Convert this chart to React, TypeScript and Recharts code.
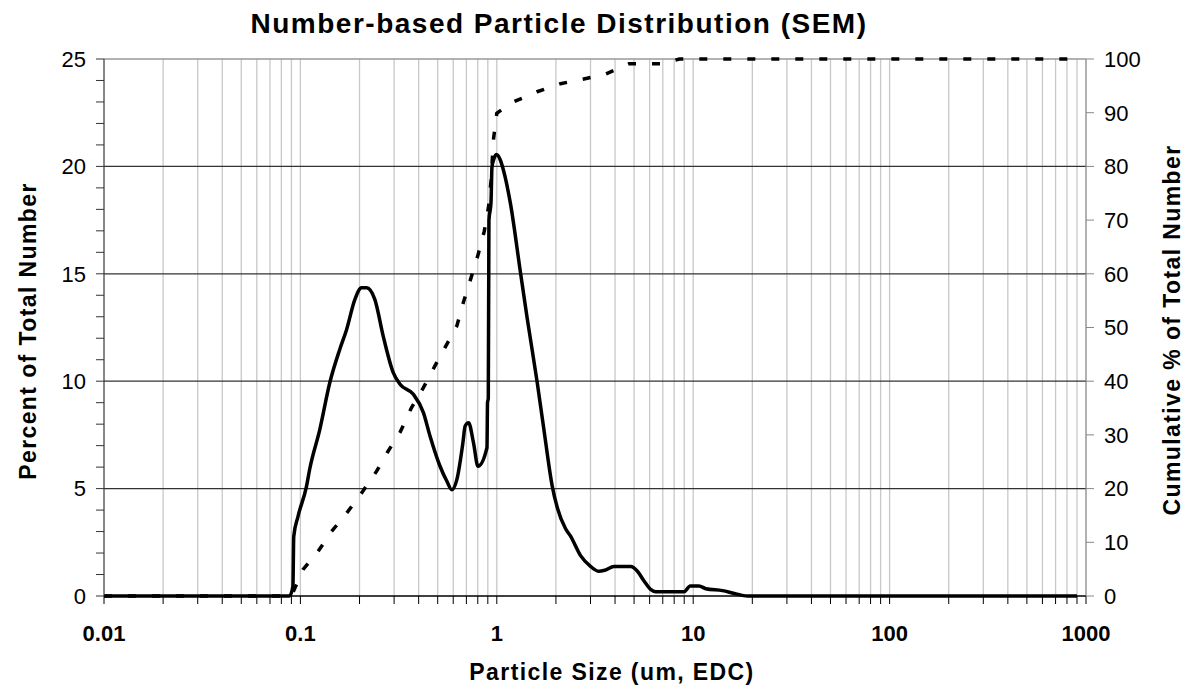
import React from "react"
import {
  ComposedChart,
  Line,
  XAxis,
  YAxis,
  CartesianGrid,
  ReferenceLine
} from "recharts"

// particle size (um) / percent of total number, solid curve
const sizeNum = [
  0.01, 0.088, 0.0916, 0.0925, 0.0972, 0.1074, 0.1115, 0.1256, 0.1412, 0.1589,
  0.1718, 0.1893, 0.2048, 0.2174, 0.2395, 0.264, 0.297, 0.3215, 0.376, 0.423,
  0.457, 0.514, 0.557, 0.59, 0.626, 0.672, 0.69, 0.718, 0.761, 0.802,
  0.891, 0.897, 0.905, 0.912, 0.934, 0.945, 0.963, 0.994, 1.042, 1.083,
  1.172, 1.318, 1.426, 1.604, 1.734, 1.914, 2.03, 2.24, 2.37, 2.67,
  3.0, 3.31, 3.55, 3.95, 4.81, 5.2, 5.62, 6.07, 6.45, 9.0,
  9.66, 10.7, 11.6, 14.1, 16.2, 18.9, 900
]
const pctNum = [
  0, 0, 0.44, 2.77, 3.7, 5.1, 5.9, 7.76, 9.94, 11.5,
  12.4, 13.8, 14.35, 14.35, 13.8, 12.1, 10.4, 9.86, 9.39, 8.54,
  7.45, 6.04, 5.34, 4.95, 5.42, 7.13, 7.91, 8.07, 7.13, 6.04,
  6.9, 9.0, 9.2, 17.5, 18.3, 19.97, 20.3, 20.55, 20.3, 19.8,
  18.3, 15.1, 12.97, 9.97, 7.8, 5.13, 4.13, 3.13, 2.8, 1.88,
  1.38, 1.15, 1.2, 1.37, 1.37, 1.15, 0.7, 0.31, 0.2, 0.2,
  0.47, 0.47, 0.34, 0.25, 0.12, 0, 0
]

// cumulative %, dashed curve
const sizeCum = [
  0.01, 0.09, 0.103, 0.123, 0.144, 0.175, 0.205, 0.244, 0.28, 0.321,
  0.368, 0.423, 0.485, 0.557, 0.626, 0.676, 0.737, 0.798, 0.863, 0.908,
  0.934, 0.963, 1.0, 1.196, 1.604, 2.11, 2.72, 3.58, 4.71, 6.2,
  7.0, 8.5, 900
]
const cumPct = [
  0, 0, 4.9, 8.3, 12.0, 15.8, 19.2, 23.2, 27.0, 30.4,
  35.1, 38.8, 42.9, 46.9, 50.3, 54.7, 59.1, 63.2, 67.9, 72.5,
  77.2, 85.2, 89.9, 91.9, 93.9, 95.4, 96.2, 97.2, 99.1, 99.1,
  99.1, 100, 100
]

const decades = [0.01, 0.1, 1, 10, 100, 1000]
const mults = [1, 2, 3, 4, 5, 6, 7, 8, 9]
const leftTicks = [0, 1, 2, 3, 4, 5, 6, 7, 8, 9, 10, 11, 12, 13, 14, 15, 16, 17, 18, 19, 20, 21, 22, 23, 24, 25]
const leftLabels = [0, 5, 10, 15, 20, 25]
const rightTicks = [0, 10, 20, 30, 40, 50, 60, 70, 80, 90, 100]
const hGrid = [5, 10, 15, 20]

const font = "'Liberation Sans', Arial, sans-serif"

const xTicks = decades
  .slice(0, -1)
  .flatMap((d) => mults.map((m) => Number((m * d).toPrecision(3))))
  .concat([1000])

const numData = sizeNum.map((x, i) => ({ x, pct: pctNum[i] }))
const cumData = sizeCum.map((x, i) => ({ x, cum: cumPct[i] }))

export default function App() {
  return (
    <div style={{ position: "absolute", left: 0, top: 0, width: 1197, height: 695, background: "#fff" }}>
      <ComposedChart
        width={1197}
        height={695}
        margin={{ top: 59, right: 0, bottom: 0, left: 0 }}
      >
        <CartesianGrid yAxisId="left" horizontal={false} stroke="#c8c8c8" strokeWidth={1.3} />
        <XAxis
          type="number"
          dataKey="x"
          scale="log"
          domain={[0.01, 1000]}
          allowDataOverflow
          ticks={xTicks}
          interval={0}
          tickFormatter={(v: number) => (decades.includes(v) ? String(v) : "")}
          height={99}
          tickSize={8}
          tickMargin={21}
          axisLine={{ stroke: "#000", strokeWidth: 1.5 }}
          tickLine={{ stroke: "#000" }}
          tick={{ fontSize: 22, fontWeight: "bold", fill: "#000", fontFamily: font }}
        />
        <YAxis
          yAxisId="left"
          domain={[0, 25]}
          ticks={leftTicks}
          interval={0}
          tickFormatter={(v: number) => (leftLabels.includes(v) ? String(v) : "")}
          width={104}
          tickSize={8}
          tickMargin={10}
          axisLine={{ stroke: "#333" }}
          tickLine={{ stroke: "#333" }}
          tick={{ fontSize: 22, fill: "#000", fontFamily: font }}
        />
        <YAxis
          yAxisId="right"
          orientation="right"
          domain={[0, 100]}
          ticks={rightTicks}
          interval={0}
          width={111}
          tickSize={8}
          tickMargin={10}
          axisLine={{ stroke: "#888" }}
          tickLine={{ stroke: "#888" }}
          tick={{ fontSize: 22, fill: "#000", fontFamily: font }}
        />
        {hGrid.map((v) => (
          <ReferenceLine key={v} yAxisId="left" y={v} stroke="#333" strokeWidth={1.2} />
        ))}
        <ReferenceLine yAxisId="left" y={25} stroke="#999" strokeWidth={1.5} />
        <Line
          yAxisId="right"
          data={cumData}
          dataKey="cum"
          type="linear"
          stroke="#000"
          strokeWidth={3.5}
          strokeDasharray="8 16"
          dot={false}
          isAnimationActive={false}
        />
        <Line
          yAxisId="left"
          data={numData}
          dataKey="pct"
          type="monotone"
          stroke="#000"
          strokeWidth={3.5}
          dot={false}
          isAnimationActive={false}
        />
      </ComposedChart>

      <svg
        width={1197}
        height={695}
        style={{ position: "absolute", left: 0, top: 0, pointerEvents: "none" }}
      >
        <text x={559} y={33} textAnchor="middle" fontSize={28} fontWeight="bold" fontFamily={font} letterSpacing={1.5}>
          Number-based Particle Distribution (SEM)
        </text>
        <text x={612} y={680} textAnchor="middle" fontSize={23} fontWeight="bold" fontFamily={font} letterSpacing={1.4}>
          Particle Size (um, EDC)
        </text>
        <text x={36} y={331} transform="rotate(-90 36 331)" textAnchor="middle" fontSize={23} fontWeight="bold" fontFamily={font} letterSpacing={1.4}>
          Percent of Total Number
        </text>
        <text x={1180} y={330} transform="rotate(-90 1180 330)" textAnchor="middle" fontSize={23} fontWeight="bold" fontFamily={font} letterSpacing={1.4}>
          Cumulative % of Total Number
        </text>
      </svg>
    </div>
  )
}
